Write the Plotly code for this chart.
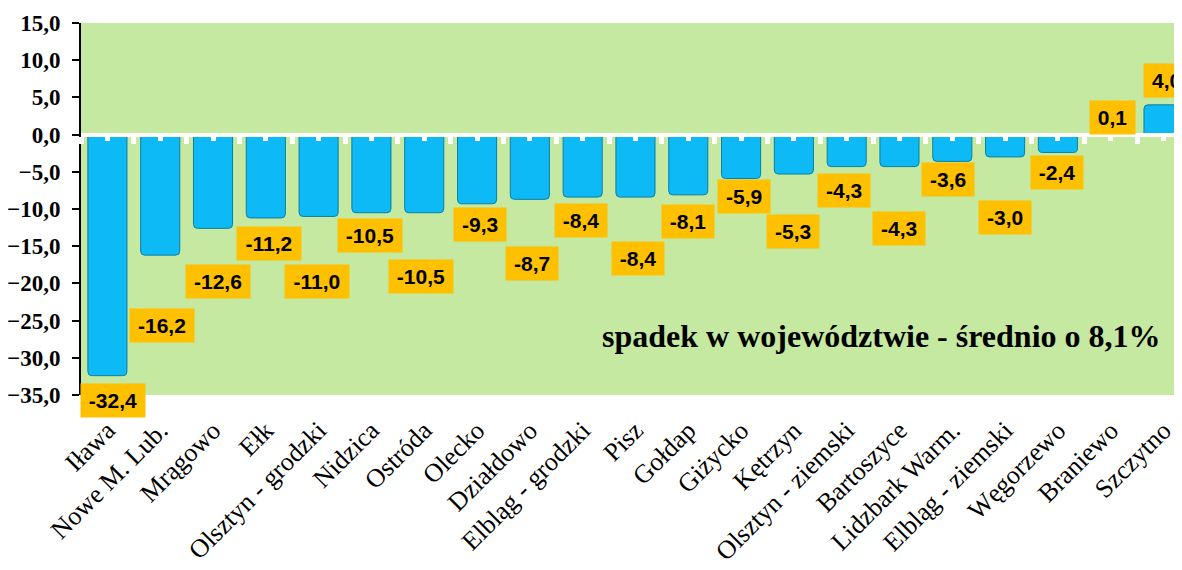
import plotly.graph_objects as go

categories = ["Iława", "Nowe M. Lub.", "Mrągowo", "Ełk", "Olsztyn - grodzki", "Nidzica",
              "Ostróda", "Olecko", "Działdowo", "Elbląg - grodzki", "Pisz", "Gołdap",
              "Giżycko", "Kętrzyn", "Olsztyn - ziemski", "Bartoszyce", "Lidzbark Warm.",
              "Elbląg - ziemski", "Węgorzewo", "Braniewo", "Szczytno"]
values = [-32.4, -16.2, -12.6, -11.2, -11.0, -10.5, -10.5, -9.3, -8.7, -8.4, -8.4, -8.1,
          -5.9, -5.3, -4.3, -4.3, -3.6, -3.0, -2.4, 0.1, 4.0]
# vertical placement of each value label (in axis units), as laid out in the original
label_pos = [-35.7, -25.7, -19.7, -14.6, -19.8, -13.6, -19.05, -12.05, -17.3, -11.55, -16.6,
             -11.65, -8.3, -13.0, -7.5, -12.6, -6.0, -11.1, -5.1, 2.35, 7.3]
# small horizontal nudges of the value labels (px)
label_dx = [6, 2, 5, 3, -2, -1, -3, 3, 2, -2, 3, 0, 3, -1, -3, 0, -4, 0, -1, 2, 3]
y_ticks = [15, 10, 5, 0, -5, -10, -15, -20, -25, -30, -35]
y_range = [-35, 15]
note_text = "spadek w województwie - średnio o 8,1%"

GREEN = "#c5e9a0"
BAR = "#0dbaf5"
ORANGE = "#ffc000"
SERIF = "Liberation Serif, Times New Roman, serif"
SANS = "Liberation Sans, Arial, sans-serif"

idx = list(range(len(categories)))
x_range = [-0.5, 20.35]

fig = go.Figure()
fig.add_trace(go.Bar(
    x=idx, y=values, width=0.74,
    marker=dict(color=BAR, line=dict(color="#0a7ea8", width=1), cornerradius=4),
    hoverinfo="skip",
))
# overlay axis used to draw the white zero line with tick notches
fig.add_trace(go.Scatter(x=[], y=[], xaxis="x2", yaxis="y", hoverinfo="skip", showlegend=False))

char_w = {"-": 0.333, ",": 0.278}
def text_width(s, size):
    return sum(char_w.get(c, 0.556) for c in s) * size

labels = [f"{v:.1f}".replace(".", ",") for v in values]
span = y_range[1] - y_range[0]
for i, (lab, ly, dx) in enumerate(zip(labels, label_pos, label_dx)):
    fig.add_annotation(
        x=i, y=(ly - y_range[0]) / span, xref="x", yref="paper", xshift=dx,
        text=f"<b>{lab}</b>", showarrow=False,
        font=dict(family=SANS, size=21, color="black"),
        bgcolor=ORANGE, borderpad=4, width=text_width(lab, 21) + 8, height=25,
        xanchor="center", yanchor="middle",
    )

fig.add_annotation(
    x=0.983, y=0.158, xref="paper", yref="paper", text=f"<b>{note_text}</b>",
    showarrow=False, xanchor="right", yanchor="middle",
    font=dict(family=SERIF, size=32, color="black"),
)

fig.update_layout(
    width=1174, height=562,
    margin=dict(l=73, r=0, t=15, b=175, pad=0, autoexpand=False),
    paper_bgcolor="white", plot_bgcolor=GREEN,
    showlegend=False, bargap=0.26,
    separators=", ",
    xaxis=dict(
        range=x_range, tickmode="array", tickvals=idx, ticktext=categories,
        tickangle=-45, tickfont=dict(family=SERIF, size=26, color="black"),
        showline=False, showgrid=False, zeroline=False, ticks="",
        ticklabelstandoff=14, automargin=False,
    ),
    xaxis2=dict(
        overlaying="x", anchor="free", position=0.7, range=x_range,
        showline=True, linecolor="white", linewidth=4,
        ticks="outside", tickcolor="white", tickwidth=5, ticklen=7,
        tick0=-0.5, dtick=1, showticklabels=False, showgrid=False, zeroline=False,
        minor=dict(ticks="outside", tick0=0, dtick=1, ticklen=4, tickwidth=5, tickcolor="white"),
        automargin=False,
    ),
    yaxis=dict(
        range=y_range, tickmode="array", tickvals=y_ticks, tickformat=".1f",
        tickfont=dict(family=SERIF, size=23, color="black", weight="bold"),
        showline=True, linecolor="black", linewidth=2,
        ticks="outside", ticklen=7, tickwidth=2, tickcolor="black",
        showgrid=False, zeroline=False, ticklabelstandoff=7, automargin=False,
    ),
)

fig.write_html("out.html")
